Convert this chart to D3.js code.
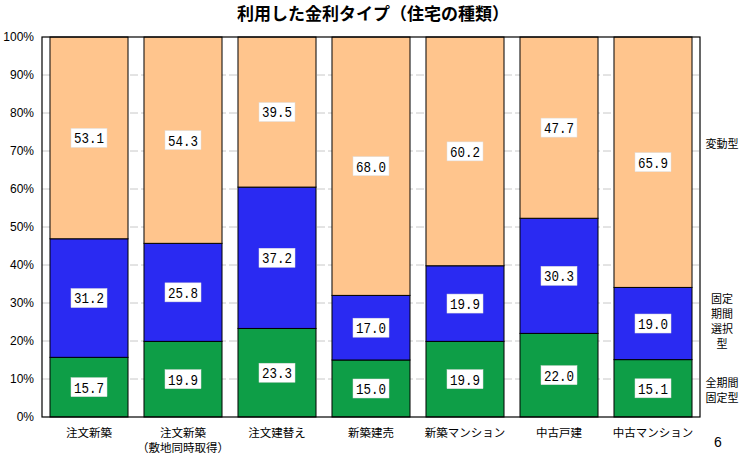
<!DOCTYPE html>
<html><head><meta charset="utf-8">
<script src="https://cdn.jsdelivr.net/npm/d3@7"></script>
<style>
body{margin:0;background:#fff;}
svg{display:block;font-family:"Noto Sans CJK JP","Noto Sans",sans-serif;}
</style></head>
<body>
<svg id="c" width="750" height="462"></svg>
<script>
const categories = ["注文新築", "注文新築\n（敷地同時取得）", "注文建替え", "新築建売", "新築マンション", "中古戸建", "中古マンション"];
const seriesNames = ["全期間固定型", "固定期間選択型", "変動型"];
const fixedAll = [15.7, 19.9, 23.3, 15.0, 19.9, 22.0, 15.1];
const fixedPeriod = [31.2, 25.8, 37.2, 17.0, 19.9, 30.3, 19.0];
const variable = [53.1, 54.3, 39.5, 68.0, 60.2, 47.7, 65.9];
const yTicks = [0, 10, 20, 30, 40, 50, 60, 70, 80, 90, 100];
const colors = ["#0E9E47", "#2A2AF2", "#FFC58D"];
const legendLabels = [["全期間", "固定型"], ["固定", "期間", "選択", "型"], ["変動型"]];

const svg = d3.select("#c");
const L = 42, R = 700, T = 37, B = 417;

const x = d3.scaleBand().domain(categories).range([L, R]).paddingInner(0.17).paddingOuter(0.085);
const y = d3.scaleLinear().domain([0, 100]).range([B, T]);

// title
svg.append("text").attr("x", 373).attr("y", 20).attr("text-anchor", "middle")
  .attr("font-size", 17).attr("font-weight", "bold").text("利用した金利タイプ（住宅の種類）");

// gridlines
svg.append("g").selectAll("line").data(yTicks.filter(d => d > 0 && d < 100)).join("line")
  .attr("x1", L).attr("x2", R).attr("y1", d => y(d)).attr("y2", d => y(d))
  .attr("stroke", "#c8c8c8").attr("stroke-width", 1).attr("stroke-dasharray", "8,3");

// y axis labels
const yAxis = d3.axisLeft(y).tickValues(yTicks).tickFormat(d => d + "%").tickSize(0).tickPadding(8);
const ya = svg.append("g").attr("transform", `translate(${L},0)`).call(yAxis);
ya.select(".domain").remove();
ya.selectAll("text").attr("fill", "#000")
  .style("font-size", "12px")
  .style("font-family", "'Liberation Sans Narrow','Liberation Sans',sans-serif");

// stacked data
const rows = categories.map((c, i) => ({cat: c, a: fixedAll[i], b: fixedPeriod[i], c: variable[i]}));
const stack = d3.stack().keys(["a", "b", "c"])(rows);

const g = svg.append("g");
stack.forEach((layer, li) => {
  g.append("g").selectAll("rect").data(layer).join("rect")
    .attr("x", d => x(d.data.cat)).attr("width", x.bandwidth())
    .attr("y", d => y(d[1])).attr("height", d => y(d[0]) - y(d[1]))
    .attr("fill", colors[li]).attr("stroke", "#000").attr("stroke-width", 1);
});

// value labels
stack.forEach((layer) => {
  const lg = g.append("g").selectAll("g").data(layer).join("g")
    .attr("transform", d => `translate(${x(d.data.cat) + x.bandwidth() / 2},${(y(d[0]) + y(d[1])) / 2})`);
  lg.append("rect").attr("x", -18).attr("y", -9.5).attr("width", 36).attr("height", 19)
    .attr("fill", "#fff").attr("stroke", "#ddd").attr("stroke-width", 0.5);
  lg.append("text").attr("text-anchor", "middle").attr("dy", "0.36em")
    .attr("textLength", 30).attr("lengthAdjust", "spacingAndGlyphs")
    .style("font-family", "'Liberation Mono','DejaVu Sans Mono',monospace").style("font-size", "15px")
    .text(d => (d[1] - d[0]).toFixed(1));
});

// frame
svg.append("rect").attr("x", L).attr("y", T).attr("width", R - L).attr("height", B - T)
  .attr("fill", "none").attr("stroke", "#000").attr("stroke-width", 1.2);

// x labels
const xa = svg.append("g");
categories.forEach(c => {
  const lines = c.split("\n");
  lines.forEach((t, k) => {
    xa.append("text").attr("x", x(c) + x.bandwidth() / 2).attr("y", 437 + k * 15)
      .attr("text-anchor", "middle").attr("font-size", 11.5).text(t);
  });
});

// right legend labels
const legendY = [[382, 397], [298, 313, 328, 343], [143]];
legendLabels.forEach((lines, i) => {
  lines.forEach((t, k) => {
    svg.append("text").attr("x", 722).attr("y", legendY[i][k] + 5).attr("text-anchor", "middle")
      .attr("font-size", 11).text(t);
  });
});

// page number
svg.append("text").attr("x", 718).attr("y", 447).attr("text-anchor", "middle")
  .style("font-size", "14px").style("font-family", "'Liberation Sans',sans-serif").text("6");
</script>
</body></html>
